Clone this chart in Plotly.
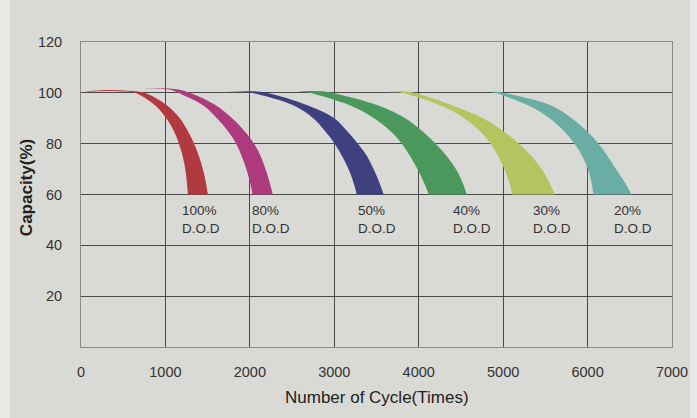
import plotly.graph_objects as go

# ---- data (cycles vs capacity %), outer and inner edge of each D.O.D band ----
labels = ["100%<br>D.O.D", "80%<br>D.O.D", "50%<br>D.O.D", "40%<br>D.O.D", "30%<br>D.O.D", "20%<br>D.O.D"]
label_x = [1175, 2005, 3255, 4380, 5325, 6285]
label_y = [50.2, 50.2, 50.2, 50.2, 50.2, 50.2]
colors = ["#b13a40", "#ad3a7d", "#3e4080", "#4a985b", "#b4c45f", "#69ada4"]

red_outer_x = [0, 150, 350, 550, 750, 1020, 1170, 1265, 1340, 1398, 1443, 1477, 1503]
red_outer_y = [100, 100.8, 101.1, 100.8, 100, 95, 90, 85, 80, 75, 70, 65, 60]
red_inner_x = [0, 150, 350, 500, 640, 880, 1010, 1100, 1160, 1205, 1235, 1253, 1266]
red_inner_y = [100, 100.5, 100.7, 100.5, 100, 95, 90, 85, 80, 75, 70, 65, 60]

mag_outer_x = [730, 850, 1000, 1150, 1290, 1600, 1790, 1935, 2050, 2130, 2185, 2232, 2272]
mag_outer_y = [101.4, 101.7, 101.8, 101.3, 100, 95, 90, 85, 80, 75, 70, 65, 60]
mag_inner_x = [730, 850, 1000, 1080, 1150, 1450, 1610, 1740, 1838, 1905, 1958, 2000, 2032]
mag_inner_y = [101.4, 101.6, 101.5, 101.0, 100, 95, 90, 85, 80, 75, 70, 65, 60]

blue_outer_x = [1720, 1900, 2050, 2200, 2690, 3000, 3150, 3280, 3390, 3465, 3530, 3585]
blue_outer_y = [100.3, 100.6, 100.6, 100, 95, 90, 85, 80, 75, 70, 65, 60]
blue_inner_x = [1720, 1850, 1950, 2020, 2520, 2750, 2890, 3005, 3095, 3168, 3225, 3266]
blue_inner_y = [100.3, 100.4, 100.3, 100, 95, 90, 85, 80, 75, 70, 65, 60]

green_outer_x = [2552, 2700, 2850, 2970, 3520, 3840, 4040, 4200, 4335, 4440, 4515, 4570]
green_outer_y = [100.4, 100.7, 100.6, 100, 95, 90, 85, 80, 75, 70, 65, 60]
green_inner_x = [2552, 2620, 2700, 3190, 3470, 3665, 3800, 3900, 3985, 4058, 4120]
green_inner_y = [100.4, 100.3, 100, 95, 90, 85, 80, 75, 70, 65, 60]

yel_outer_x = [3620, 3750, 3850, 3950, 4400, 4760, 5000, 5190, 5340, 5455, 5543, 5612]
yel_outer_y = [100.3, 100.6, 100.5, 100, 95, 90, 85, 80, 75, 70, 65, 60]
yel_inner_x = [3620, 3720, 3800, 4260, 4540, 4725, 4850, 4945, 5015, 5070, 5110]
yel_inner_y = [100.3, 100.2, 100, 95, 90, 85, 80, 75, 70, 65, 60]

teal_outer_x = [4840, 4920, 5000, 5570, 5810, 5990, 6130, 6240, 6335, 6435, 6520]
teal_outer_y = [100.3, 100.4, 100, 95, 90, 85, 80, 75, 70, 65, 60]
teal_inner_x = [4840, 4900, 5300, 5550, 5720, 5846, 5940, 6005, 6045, 6068]
teal_inner_y = [100.3, 100, 95, 90, 85, 80, 75, 70, 65, 60]

bands = [
    (red_outer_x, red_outer_y, red_inner_x, red_inner_y),
    (mag_outer_x, mag_outer_y, mag_inner_x, mag_inner_y),
    (blue_outer_x, blue_outer_y, blue_inner_x, blue_inner_y),
    (green_outer_x, green_outer_y, green_inner_x, green_inner_y),
    (yel_outer_x, yel_outer_y, yel_inner_x, yel_inner_y),
    (teal_outer_x, teal_outer_y, teal_inner_x, teal_inner_y),
]

x_ticks = [0, 1000, 2000, 3000, 4000, 5000, 6000, 7000]
y_ticks = [20, 40, 60, 80, 100, 120]
x_title = "Number of Cycle(Times)"
y_title = "<b>Capacity(%)</b>"

fig = go.Figure()
for (ox, oy, ix, iy), c in zip(bands, colors):
    fig.add_trace(go.Scatter(x=ix, y=iy, mode="lines", line=dict(width=0, color=c, shape="spline"),
                             hoverinfo="skip", showlegend=False))
    fig.add_trace(go.Scatter(x=ox, y=oy, mode="lines", line=dict(width=0, color=c, shape="spline"),
                             fill="tonexty", fillcolor=c, hoverinfo="skip", showlegend=False))

for t, x, y in zip(labels, label_x, label_y):
    fig.add_annotation(x=x, y=y, text=t, showarrow=False, xanchor="left", yanchor="middle",
                       align="left", font=dict(size=13.5, color="#333333"))

# axis titles
fig.add_annotation(x=0.5, y=-0.167, xref="paper", yref="paper", text=x_title, showarrow=False,
                   xanchor="center", yanchor="middle", font=dict(size=17, color="#222222"))
fig.add_annotation(x=-0.093, y=0.521, xref="paper", yref="paper", text=y_title, showarrow=False,
                   textangle=-90, xanchor="center", yanchor="middle", font=dict(size=17, color="#222222"))

# background panel with light edges
fig.add_shape(type="rect", xref="paper", yref="paper", x0=-0.12, x1=1.0305, y0=-0.3, y1=1.3,
              fillcolor="#d9d9d5", line=dict(width=0), layer="below")

fig.update_layout(
    width=697, height=418,
    margin=dict(l=81, r=25, t=42, b=71, autoexpand=False),
    paper_bgcolor="#e8e8e6", plot_bgcolor="#d9d9d5",
    font=dict(family="Liberation Sans, Arial, sans-serif", color="#333333"),
    xaxis=dict(range=[0, 7000], tickvals=x_ticks, ticktext=[str(v) for v in x_ticks],
               showgrid=True, gridcolor="#4a4a4a", gridwidth=1, zeroline=False,
               showline=True, linecolor="#8a8a8a", linewidth=1, mirror=True, automargin=False,
               ticks="", ticklabelstandoff=12, tickfont=dict(size=14.5, color="#333333")),
    yaxis=dict(range=[0, 120], tickvals=y_ticks, ticktext=[str(v) for v in y_ticks],
               showgrid=True, gridcolor="#4a4a4a", gridwidth=1, zeroline=False,
               showline=True, linecolor="#8a8a8a", linewidth=1, mirror=True, automargin=False,
               ticks="", ticklabelstandoff=15, tickfont=dict(size=14.5, color="#333333")),
)

fig.write_html(
    "out.html",
    config={"displayModeBar": False},
    post_script="document.body.style.margin='0';document.body.style.overflow='hidden';"
                "document.body.style.background='#e8e8e6';",
)
